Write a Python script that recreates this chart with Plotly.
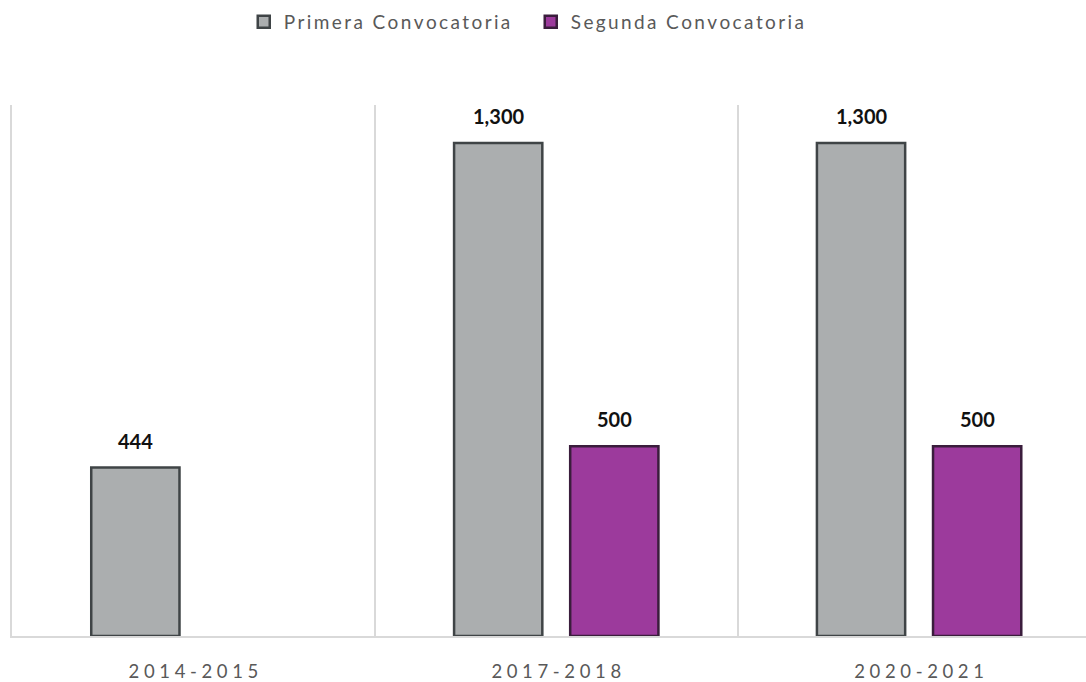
import plotly.graph_objects as go

periodos = ["2014-2015", "2017-2018", "2020-2021"]
primera = [444, 1300, 1300]
segunda = [None, 500, 500]
series = ["Primera Convocatoria", "Segunda Convocatoria"]

# the reference text is letter-spaced
def espaciar(s, sep):
    return sep.join(s)

etiquetas = [espaciar(p, "\u2009\u2009") for p in periodos]

fig = go.Figure()

fig.add_trace(
    go.Bar(
        x=periodos, y=primera, name=espaciar(series[0], "\u2009"),
        marker=dict(color="#abaeaf", line=dict(color="#3f4446", width=2.5)),
    )
)
fig.add_trace(
    go.Bar(
        x=periodos, y=segunda, name=espaciar(series[1], "\u2009"),
        marker=dict(color="#9c3a9c", line=dict(color="#3a1d3c", width=2.5)),
    )
)

# value labels above each bar (half a bar slot left / right of the category)
for serie, desplaza in [(primera, -58), (segunda, 58)]:
    for p, v in zip(periodos, serie):
        if v is None:
            continue
        fig.add_annotation(
            x=p, y=v, text=f"<b>{v:,}</b>", showarrow=False,
            xshift=desplaza, yshift=13, yanchor="bottom",
            font=dict(family="Lato", size=20, color="#111111"),
        )

fig.update_layout(
    width=1086,
    height=682,
    barmode="group",
    bargap=0.36,
    bargroupgap=0.24,
    template="simple_white",
    paper_bgcolor="white",
    plot_bgcolor="white",
    font=dict(family="Lato", color="#595959"),
    margin=dict(l=12, r=0, t=105, b=46, autoexpand=False),
    legend=dict(
        orientation="h",
        x=0.483, xanchor="center",
        y=0.968, yanchor="middle",
        yref="container",
        font=dict(size=19, color="#595959"),
        itemwidth=30,
        entrywidth=242,
        traceorder="normal",
    ),
    xaxis=dict(
        tickmode="array",
        tickvals=periodos,
        ticktext=etiquetas,
        tickson="boundaries",
        ticks="",
        showgrid=True,
        gridcolor="#d9d9d9",
        gridwidth=2,
        showline=True,
        linecolor="#d9d9d9",
        linewidth=2,
        range=[-0.5, 2.46],
        automargin=False,
        tickfont=dict(size=18.5, color="#595959"),
        ticklabelstandoff=18,
    ),
    yaxis=dict(
        range=[0, 1400],
        showticklabels=False,
        ticks="",
        showgrid=False,
        zeroline=False,
        showline=True,
        linecolor="#d9d9d9",
        linewidth=2,
        automargin=False,
    ),
)

# drop the default page margin so the figure fills the window
fig.write_html(
    "out.html",
    config={"displayModeBar": False},
    post_script="document.body.style.margin = '0';",
)
